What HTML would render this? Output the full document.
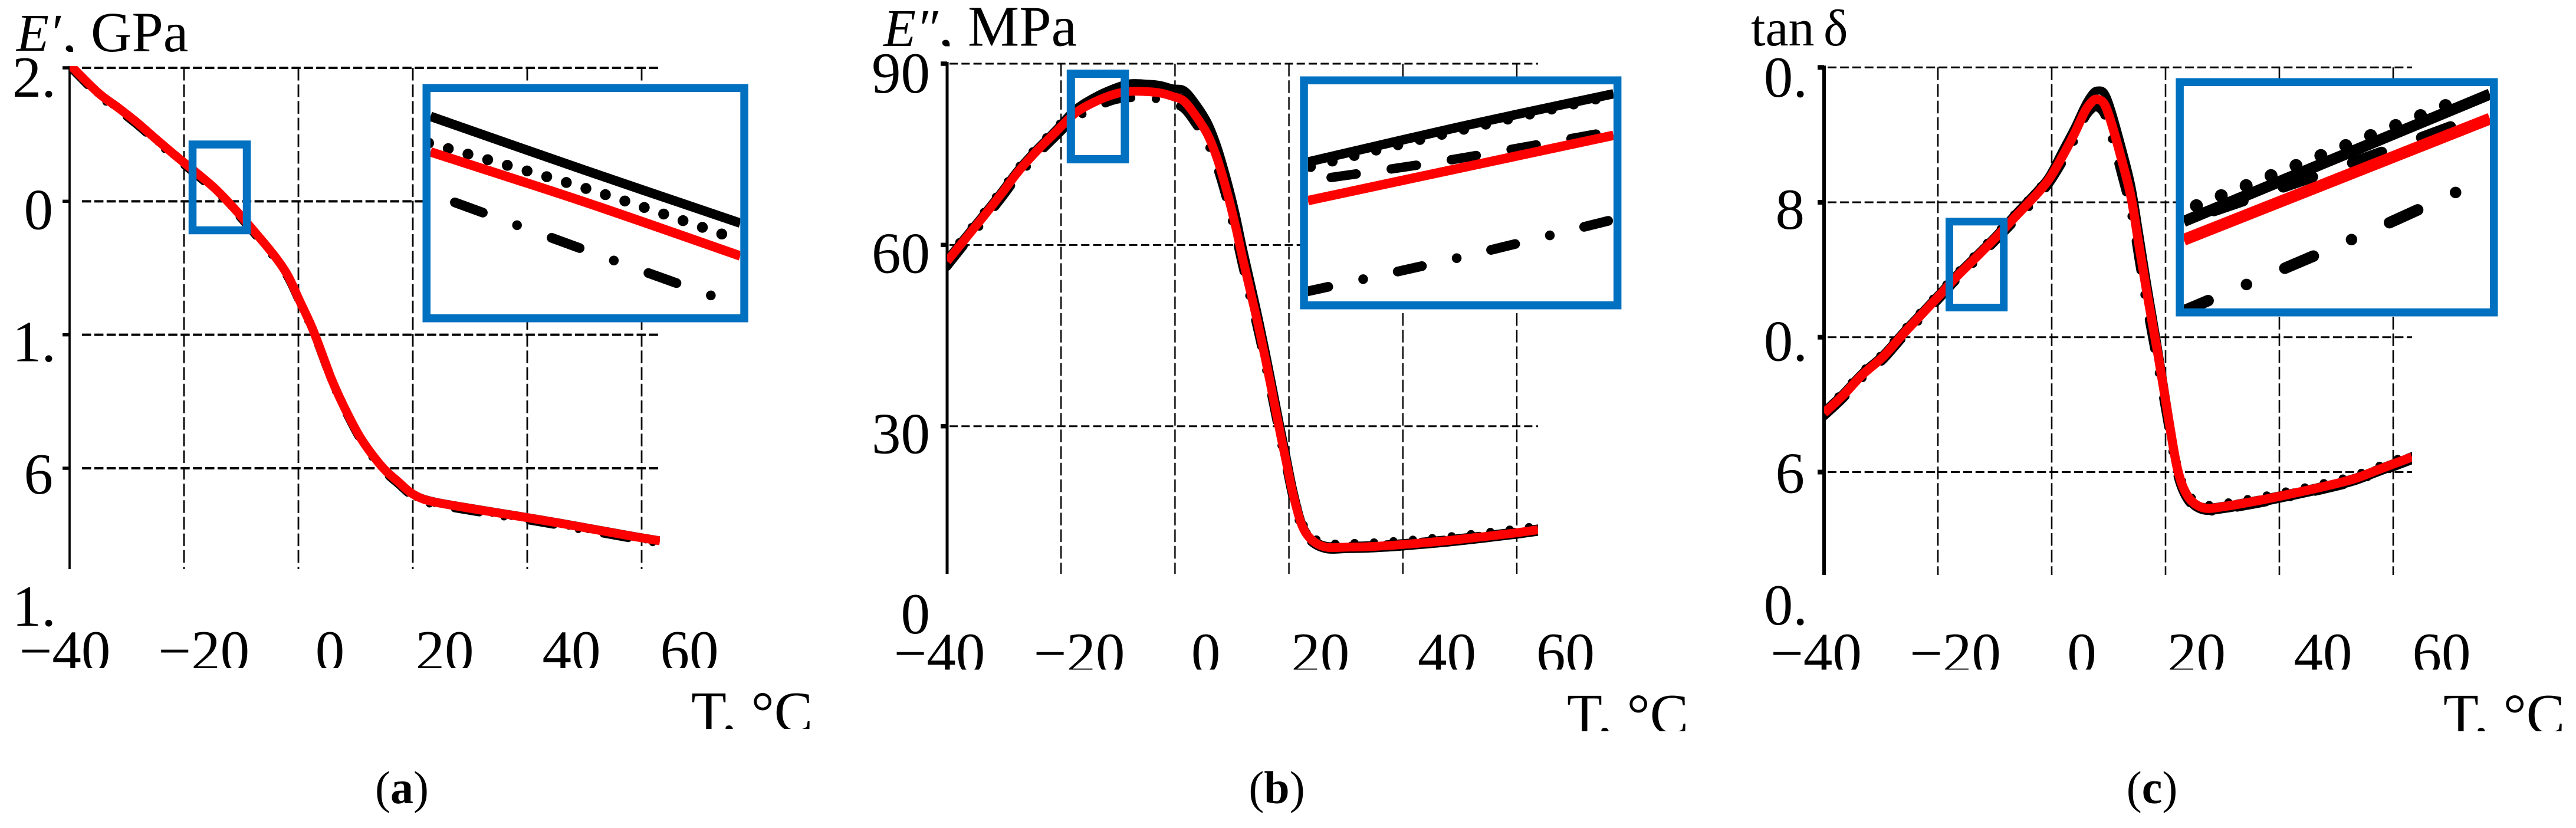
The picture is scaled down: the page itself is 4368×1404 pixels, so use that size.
<!DOCTYPE html>
<html lang="en">
<head>
<meta charset="utf-8">
<title>Dynamic mechanical analysis curves</title>
<style>
html,body{margin:0;padding:0;background:#fff;width:4368px;height:1404px;overflow:hidden}
svg{display:block}
text{font-family:"Liberation Serif","DejaVu Serif",serif;fill:#000}
</style>
</head>
<body>
<svg id="figure" xmlns="http://www.w3.org/2000/svg" width="4368" height="1404" viewBox="0 0 4368 1404">
  <defs>
    <clipPath id="title-clip-a"><rect x="0" y="0" width="600" height="88"/></clipPath>
    <clipPath id="title-clip-b"><rect x="1400" y="0" width="600" height="78.5"/></clipPath>
    <clipPath id="title-clip-c"><rect x="2900" y="0" width="600" height="78.5"/></clipPath>
    <clipPath id="unit-clip-a"><rect x="1150" y="1150" width="224" height="86"/></clipPath>
    <clipPath id="unit-clip-b"><rect x="2640" y="1150" width="218" height="90"/></clipPath>
    <clipPath id="unit-clip-c"><rect x="4125" y="1150" width="220" height="90"/></clipPath>
  </defs>

  <rect x="0" y="0" width="4368" height="1404" fill="#fff"/>

  <g id="layer-a"></g>
  <g id="layer-b"></g>
  <g id="layer-c"></g>

  <g clip-path="url(#title-clip-a)">
    <text x="28" y="86" font-size="90" font-style="italic" fill="#222">E′</text>
    <text x="106" y="87" font-size="96" xml:space="preserve">, GPa</text>
  </g>
  <g clip-path="url(#title-clip-b)">
    <text x="1498" y="78" font-size="90" font-style="italic" fill="#222">E″</text>
    <text x="1592" y="77.5" font-size="98" xml:space="preserve">, MPa</text>
  </g>
  <g clip-path="url(#title-clip-c)">
    <text x="2969" y="77" font-size="88" fill="#222">tan</text>
    <text x="3092" y="77" font-size="88" fill="#222">δ</text>
  </g>

  <g clip-path="url(#unit-clip-a)">
    <text x="1172" y="1240" font-size="98" xml:space="preserve">T, °C</text>
  </g>
  <g clip-path="url(#unit-clip-b)">
    <text x="2657" y="1244" font-size="98" xml:space="preserve">T, °C</text>
  </g>
  <g clip-path="url(#unit-clip-c)">
    <text x="4143" y="1244" font-size="98" xml:space="preserve">T, °C</text>
  </g>

  <text x="681.5" y="1362" font-size="78" text-anchor="middle">(<tspan font-weight="bold">a</tspan>)</text>
  <text x="2165" y="1362" font-size="78" text-anchor="middle">(<tspan font-weight="bold">b</tspan>)</text>
  <text x="3649" y="1362" font-size="78" text-anchor="middle">(<tspan font-weight="bold">c</tspan>)</text>
</svg>

<script>
/* ---------- shared axis data ---------- */
const xGridValues = [-20, 0, 20, 40, 60];
const xTickValues = [-40, -20, 0, 20, 40, 60];
const xTickLabels = ['−40', '−20', '0', '20', '40', '60'];

/* ---------- panel a: storage modulus E', GPa ---------- */
const aYGrid = [2.2, 2.0, 1.8, 1.6];
const aYTicks = [2.2, 2.0, 1.8, 1.6, 1.4];
const aYLabels = ['2.', '0', '1.', '6', '1.'];
const aTemps = [-40,-35.05,-31.6,-28.18,-24.76,-21.34,-17.94,-14.54,-11.08,-7.66,-4.25,-1.86,0.21,2.45,4.9,5.67,7.16,8.87,10.72,12.85,15.15,17.47,19.59,21.65,24.23,28.87,35.15,40.2,45.67,51.96,58.25,63.2];
const aRed = [2.205,2.1629,2.1408,2.1178,2.0922,2.0674,2.0436,2.0188,1.9879,1.9543,1.919,1.8889,1.8509,1.8094,1.7537,1.736,1.7068,1.6768,1.6476,1.6211,1.5973,1.5796,1.5637,1.5544,1.5486,1.5416,1.5327,1.5257,1.5177,1.508,1.4983,1.4912];
const aSolid = [2.2065,2.1644,2.1423,2.1193,2.0937,2.0689,2.0451,2.0203,1.9894,1.9558,1.9205,1.8904,1.8524,1.8109,1.7552,1.7375,1.7083,1.6783,1.6491,1.6226,1.5988,1.5811,1.5652,1.5559,1.5501,1.5431,1.5342,1.5272,1.5192,1.5095,1.4998,1.4927];
const aDotted = [2.203,2.1609,2.1388,2.1158,2.0902,2.0654,2.0416,2.0168,1.9859,1.9523,1.917,1.8869,1.8489,1.8074,1.7517,1.734,1.7048,1.6748,1.6456,1.6191,1.5953,1.5776,1.5617,1.5524,1.5466,1.5396,1.5307,1.5237,1.5157,1.506,1.4963,1.4892];
const aDashDot = [2.2005,2.1584,2.1363,2.1133,2.0877,2.0629,2.0391,2.0143,1.9834,1.9498,1.9145,1.8844,1.8464,1.8049,1.7492,1.7315,1.7023,1.6723,1.6431,1.6166,1.5928,1.5751,1.5592,1.5499,1.5441,1.5371,1.5282,1.5212,1.5132,1.5035,1.4938,1.4867];
/* inset a */
const aInsetRedT = [-17.86,-13.78,-9.72];
const aInsetRedV = [2.0477,2.0214,1.9935];
const aInsetSolidT = [-17.86,-13.78,-9.72];
const aInsetSolidV = [2.0662,2.038,2.0106];
const aInsetDottedT = [-17.91,-13.75,-9.76];
const aInsetDottedV = [2.0523,2.0285,2.0019];
const aInsetDashDotT = [-17.22,-13.04,-9.88];
const aInsetDashDotV = [2.0214,1.9911,1.9686];

/* ---------- panel b: loss modulus E'', MPa ---------- */
const bYGrid = [90, 60, 30];
const bYTicks = [90, 60, 30, 0];
const bYLabels = ['90', '60', '30', '0'];
const bTemps = [-40,-35.82,-33.07,-30.32,-27.58,-24.49,-21.06,-17.62,-14.19,-10.76,-8.01,-5.6,-2.86,-0.46,1.6,3.66,5.72,7.44,9.16,10.62,11.76,13.37,14.65,15.9,17.18,18.45,19.5,20.77,22.25,23.95,26.48,30.29,34.5,40,47.16,53.52,59.43,63.73];
const bRed = [57.3,62.15,65.35,68.65,72.07,75.33,78.58,81.73,83.63,84.92,85.41,85.41,85.19,84.6,83.78,81.34,78.26,74.19,68.65,63.13,58.25,51.74,46.53,41,34.98,28.96,24.22,18.55,13.67,11.23,9.99,9.99,10.09,10.42,11,11.65,12.3,12.86];
const bSolid = [57.6,62.45,65.65,68.95,72.37,75.63,78.88,82.33,84.43,85.92,86.71,86.71,86.49,85.9,85.58,83.34,80.26,76.19,70.65,65.13,60.05,53.34,47.93,42.3,36.2,30.06,25.2,19.25,13.97,11.13,9.69,9.69,9.79,10.12,10.7,11.35,12,12.56];
const bDotted = [57.95,62.8,66,69.3,72.72,75.98,79.23,82.38,84.28,85.57,86.06,86.06,85.84,85.25,84.43,81.99,78.91,74.84,69.3,63.78,58.9,52.39,47.18,41.65,35.63,29.61,24.87,19.2,14.32,11.88,10.64,10.64,10.74,11.07,11.65,12.3,12.95,13.51];
const bDashed = [57.5,62.35,65.55,68.85,72.27,75.53,78.78,81.93,83.83,85.12,85.61,85.61,85.39,84.8,83.98,81.54,78.46,74.39,68.85,63.33,58.45,51.94,46.73,41.2,35.18,29.16,24.42,18.75,13.87,11.43,10.19,10.19,10.29,10.62,11.2,11.85,12.5,13.06];
const bDashDot = [56.4,61.35,64.55,67.85,71.27,74.53,77.78,80.83,82.63,83.92,84.31,84.31,84.09,83.4,82.48,79.94,76.76,72.59,67.05,61.53,56.75,50.34,45.23,39.8,33.88,27.96,23.32,17.75,13.07,10.83,9.69,9.69,9.79,10.12,10.7,11.35,12,12.56];
/* inset b */
const bInsetRedT = [-17.56,-9.52];
const bInsetRedV = [80.74,84.61];
const bInsetSolidT = [-17.56,-13.55,-9.52];
const bInsetSolidV = [83.03,85.12,87.07];
const bInsetDottedT = [-17.49,-14.64,-9.98];
const bInsetDottedV = [82.75,84.34,86.76];
const bInsetDashedT = [-16.95,-13.76,-9.52];
const bInsetDashedV = [82.11,83.17,84.87];
const bInsetDashDotT = [-17.66,-13.63,-9.52];
const bInsetDashDotV = [75.32,77.34,79.62];

/* ---------- panel c: loss tangent tan delta ---------- */
const cYGrid = [0.9, 0.8, 0.7, 0.6];
const cYTicks = [0.9, 0.8, 0.7, 0.6, 0.5];
const cYLabels = ['0.', '8', '0.', '6', '0.'];
const cTemps = [-40,-36.85,-33.26,-29.67,-26.07,-22.48,-18.88,-17.08,-13.48,-9.89,-6.3,-2.7,-0.46,1.79,4.04,5.83,7.18,8.08,9.21,10.33,12.12,13.93,15.27,16.62,18.14,18.65,19.51,20.36,21.21,22.05,23.11,24.59,26.92,30.3,35.8,40.03,46.37,52.73,56.95,60.08,63.3];
const cRed = [0.6438,0.6561,0.6722,0.6854,0.7025,0.7186,0.7348,0.7433,0.7584,0.7736,0.7897,0.8058,0.8172,0.8333,0.8513,0.8674,0.875,0.8763,0.8731,0.8608,0.8342,0.8039,0.7698,0.7357,0.6997,0.6877,0.6659,0.644,0.6222,0.6032,0.5886,0.5785,0.5733,0.5745,0.5785,0.5821,0.5879,0.5945,0.6011,0.6061,0.6112];
const cSolid = [0.6451,0.6574,0.6735,0.6867,0.7038,0.7199,0.7361,0.7446,0.7597,0.7749,0.7917,0.8078,0.8192,0.8373,0.8553,0.8714,0.8805,0.8828,0.8811,0.8698,0.8432,0.8129,0.7788,0.7427,0.7047,0.6917,0.6689,0.646,0.6232,0.6032,0.5876,0.5767,0.5715,0.5727,0.5767,0.5803,0.5861,0.5927,0.5993,0.6043,0.6094];
const cDotted = [0.6463,0.6586,0.6747,0.6879,0.705,0.7211,0.7373,0.7458,0.7609,0.7761,0.7922,0.8083,0.8197,0.8358,0.8538,0.8699,0.8775,0.8788,0.8756,0.8633,0.8367,0.8064,0.7723,0.7382,0.7022,0.6902,0.6684,0.6465,0.6247,0.6057,0.5911,0.581,0.5758,0.577,0.581,0.5846,0.5904,0.597,0.6036,0.6086,0.6137];
const cDashed = [0.6443,0.6566,0.6727,0.6859,0.703,0.7191,0.7353,0.7438,0.7589,0.7741,0.7902,0.8063,0.8177,0.8338,0.8518,0.8679,0.8755,0.8768,0.8736,0.8613,0.8347,0.8044,0.7703,0.7362,0.7002,0.6882,0.6664,0.6445,0.6227,0.6037,0.5891,0.579,0.5738,0.575,0.579,0.5826,0.5884,0.595,0.6016,0.6066,0.6117];
const cDashDot = [0.6413,0.6536,0.6697,0.6829,0.7,0.7161,0.7323,0.7408,0.7559,0.7711,0.7867,0.8023,0.8137,0.8288,0.8463,0.8624,0.8695,0.8703,0.8651,0.8508,0.8222,0.7919,0.7578,0.7237,0.6887,0.6777,0.6569,0.6365,0.6157,0.5982,0.5851,0.5757,0.5708,0.5722,0.5762,0.5798,0.5856,0.5922,0.5988,0.6038,0.6089];
/* inset c */
const cInsetRedT = [-17.31,-9.08];
const cInsetRedV = [0.7426,0.7742];
const cInsetSolidT = [-17.31,-13.2,-9.08];
const cInsetSolidV = [0.7474,0.764,0.7806];
const cInsetDottedT = [-16.97,-13.62,-9.61];
const cInsetDottedV = [0.7515,0.7646,0.7802];
const cInsetDashedT = [-16.5,-12.8,-9.08];
const cInsetDashedV = [0.7502,0.7626,0.7759];
const cInsetDashDotT = [-17.42,-12.79,-9.05];
const cInsetDashDotV = [0.7236,0.7427,0.7592];

/* ---------- helpers ---------- */
const NS = 'http://www.w3.org/2000/svg';
function linearAxis(d0, d1, r0, r1) {
  return v => r0 + (v - d0) * (r1 - r0) / (d1 - d0);
}
function node(tag, attrs, parent) {
  const el = document.createElementNS(NS, tag);
  for (const k in attrs) el.setAttribute(k, attrs[k]);
  parent.appendChild(el);
  return el;
}
function smoothPath(ts, vs, xf, yf) {
  const p = ts.map((t, i) => [xf(t), yf(vs[i])]);
  let d = 'M' + p[0][0].toFixed(2) + ' ' + p[0][1].toFixed(2);
  for (let i = 0; i < p.length - 1; i++) {
    const a = p[Math.max(i - 1, 0)], b = p[i], c = p[i + 1], e = p[Math.min(i + 2, p.length - 1)];
    const c1x = b[0] + (c[0] - a[0]) / 6, c1y = b[1] + (c[1] - a[1]) / 6;
    const c2x = c[0] - (e[0] - b[0]) / 6, c2y = c[1] - (e[1] - b[1]) / 6;
    d += 'C' + c1x.toFixed(2) + ' ' + c1y.toFixed(2) + ' ' + c2x.toFixed(2) + ' ' + c2y.toFixed(2) + ' ' + c[0].toFixed(2) + ' ' + c[1].toFixed(2);
  }
  return d;
}
function drawSeries(group, list, xf, yf, prefix) {
  list.forEach(s => {
    const path = node('path', {
      d: smoothPath(s.t, s.v, xf, yf),
      fill: 'none',
      stroke: s.color,
      'stroke-width': s.width,
      'stroke-linecap': s.dash ? 'round' : 'butt',
      'stroke-linejoin': 'round'
    }, group);
    if (s.dash) path.setAttribute('stroke-dasharray', s.dash);
    
    
  });
}

/* ---------- panel drawing ---------- */
function drawPanel(cfg) {
  const root = document.getElementById('layer-' + cfg.id);
  const defs = document.querySelector('#figure defs');
  const xAxis = cfg.xAxis, yAxis = cfg.yAxis;

  const plotClip = node('clipPath', {id: 'plot-clip-' + cfg.id}, defs);
  node('rect', {x: cfg.left, y: cfg.top - 3, width: cfg.right - cfg.left, height: cfg.bottom - cfg.top + 3}, plotClip);
  const insetClip = node('clipPath', {id: 'inset-clip-' + cfg.id}, defs);
  node('rect', {x: cfg.inset.x0, y: cfg.inset.y0, width: cfg.inset.x1 - cfg.inset.x0, height: cfg.inset.y1 - cfg.inset.y0}, insetClip);
  const tickClip = node('clipPath', {id: 'tick-clip-' + cfg.id}, defs);
  node('rect', {x: cfg.left - 130, y: 1050, width: 1300, height: cfg.xLabelClip - 1050}, tickClip);

  /* gridlines */
  cfg.yGrid.forEach(v => {
    const line = node('line', {x1: cfg.left + cfg.hStart, x2: cfg.right, y1: yAxis(v), y2: yAxis(v), stroke: '#000', 'stroke-width': cfg.hGridWidth, 'stroke-dasharray': cfg.hDash}, root);
    
    
    const tick = node('line', {x1: cfg.left - cfg.tickLen, x2: cfg.left, y1: yAxis(v), y2: yAxis(v), stroke: '#000', 'stroke-width': cfg.tickWidth}, root);
    
    
  });
  xGridValues.forEach(t => {
    const line = node('line', {x1: xAxis(t), x2: xAxis(t), y1: cfg.top, y2: cfg.bottom, stroke: '#000', 'stroke-width': cfg.vGridWidth, 'stroke-dasharray': '21.5 6.7'}, root);
    
    
  });

  /* y axis */
  const axis = node('line', {x1: cfg.left, x2: cfg.left, y1: cfg.top - 3, y2: cfg.bottom, stroke: '#000', 'stroke-width': cfg.axisWidth}, root);
  
  

  /* y tick labels */
  cfg.yTicks.forEach((v, i) => {
    const isDotted = cfg.yLabels[i].endsWith('.');
    const label = node('text', {x: isDotted ? cfg.yLabelX + 5 : cfg.yLabelX, y: cfg.yLabelAxis(v), 'font-size': 99, 'text-anchor': 'end'}, root);
    label.textContent = cfg.yLabels[i];
    
    
  });

  /* x tick labels */
  const xLabels = node('g', {'clip-path': 'url(#tick-clip-' + cfg.id + ')'}, root);
  
  
  xTickValues.forEach((t, i) => {
    const label = node('text', {x: xAxis(t) + cfg.xLabelNudge[i], y: cfg.xLabelBase, 'font-size': 99, 'text-anchor': 'middle'}, xLabels);
    label.textContent = xTickLabels[i];
    
    
  });

  /* main curves */
  const curves = node('g', {'clip-path': 'url(#plot-clip-' + cfg.id + ')'}, root);
  
  
  drawSeries(curves, cfg.series, xAxis, yAxis, 'curve-' + cfg.id);

  /* highlight rectangle */
  const hl = node('rect', {x: cfg.hl.x, y: cfg.hl.y, width: cfg.hl.w, height: cfg.hl.h, fill: 'none', stroke: '#0070C0', 'stroke-width': cfg.hl.sw}, root);
  
  

  /* inset */
  const ins = cfg.inset;
  const box = node('rect', {x: ins.x0, y: ins.y0, width: ins.x1 - ins.x0, height: ins.y1 - ins.y0, fill: '#fff', stroke: 'none'}, root);
  
  
  const insetX = linearAxis(ins.t0, ins.t1, ins.x0, ins.x1);
  const insetY = linearAxis(ins.v0, ins.v1, ins.y0, ins.y1);
  const insetGroup = node('g', {'clip-path': 'url(#inset-clip-' + cfg.id + ')'}, root);
  
  
  drawSeries(insetGroup, ins.series, insetX, insetY, 'inset-curve-' + cfg.id);
  const frame = node('rect', {x: ins.x0 - 6.75, y: ins.y0 - 6.75, width: ins.x1 - ins.x0 + 13.5, height: ins.y1 - ins.y0 + 13.5, fill: 'none', stroke: '#0070C0', 'stroke-width': 13.5}, root);
  
  
}

/* ---------- panel layouts ---------- */
drawPanel({
  id: 'a', left: 118, right: 1119, top: 115, bottom: 965,
  xAxis: linearAxis(-40, 60, 118, 1088),
  yAxis: linearAxis(2.2, 1.6, 115, 794),
  yLabelAxis: linearAxis(2.2, 1.4, 164, 1061),
  yGrid: aYGrid, yTicks: aYTicks, yLabels: aYLabels,
  yLabelX: 90, xLabelBase: 1137, xLabelClip: 1133,
  xLabelNudge: [-8, 33.7, 53.5, 54, 75, 81],
  hStart: 21, hDash: '15.5 5.4', hGridWidth: 4, vGridWidth: 2.8, axisWidth: 3.7, tickLen: 12, tickWidth: 5.5,
  series: [
    {name: 'dash-dot', t: aTemps, v: aDashDot, color: '#000', width: 12, dash: '43 42 0 43'},
    {name: 'dotted', t: aTemps, v: aDotted, color: '#000', width: 12, dash: '0 33'},
    {name: 'solid', t: aTemps, v: aSolid, color: '#000', width: 12},
    {name: 'red', t: aTemps, v: aRed, color: '#FF0000', width: 15}
  ],
  hl: {x: 326.5, y: 245, w: 92, h: 145.5, sw: 13.5},
  inset: {
    x0: 730, x1: 1255.3, y0: 156, y1: 533, t0: -17.86, t1: -9.72, v0: 2.0789, v1: 1.9631,
    series: [
      {name: 'dash-dot', t: aInsetDashDotT, v: aInsetDashDotV, color: '#000', width: 16.5, dash: '50.5 61.8 0 62.4'},
      {name: 'dotted', t: aInsetDottedT, v: aInsetDottedV, color: '#000', width: 18.5, dash: '0 34.7'},
      {name: 'solid', t: aInsetSolidT, v: aInsetSolidV, color: '#000', width: 16},
      {name: 'red', t: aInsetRedT, v: aInsetRedV, color: '#FF0000', width: 16}
    ]
  }
});

drawPanel({
  id: 'b', left: 1606, right: 2608, top: 108, bottom: 973,
  xAxis: linearAxis(-40, 60, 1606, 2572),
  yAxis: linearAxis(90, 30, 108, 722.7),
  yLabelAxis: linearAxis(90, 0, 157, 1074),
  yGrid: bYGrid, yTicks: bYTicks, yLabels: bYLabels,
  yLabelX: 1577, xLabelBase: 1141, xLabelClip: 1135.5,
  xLabelNudge: [-13, 30.8, 52.2, 53.1, 74.7, 82.5],
  hStart: 4, hDash: '14 6.3', hGridWidth: 3, vGridWidth: 2.4, axisWidth: 5, tickLen: 11, tickWidth: 7.5,
  series: [
    {name: 'dash-dot', t: bTemps, v: bDashDot, color: '#000', width: 14, dash: '45 42 0 43'},
    {name: 'dashed', t: bTemps, v: bDashed, color: '#000', width: 14, dash: '38 22'},
    {name: 'dotted', t: bTemps, v: bDotted, color: '#000', width: 14, dash: '0 33'},
    {name: 'solid', t: bTemps, v: bSolid, color: '#000', width: 14},
    {name: 'red', t: bTemps, v: bRed, color: '#FF0000', width: 15}
  ],
  hl: {x: 1815.8, y: 125, w: 91.6, h: 145, sw: 14},
  inset: {
    x0: 2217.8, x1: 2735.9, y0: 143, y1: 511, t0: -17.56, t1: -9.52, v0: 87.63, v1: 74.77,
    series: [
      {name: 'dash-dot', t: bInsetDashDotT, v: bInsetDashDotV, color: '#000', width: 16.5, dash: '42 60.5 0 60'},
      {name: 'dashed', t: bInsetDashedT, v: bInsetDashedV, color: '#000', width: 16, dash: '43 60'},
      {name: 'dotted', t: bInsetDottedT, v: bInsetDottedV, color: '#000', width: 18, dash: '0 38.2'},
      {name: 'solid', t: bInsetSolidT, v: bInsetSolidV, color: '#000', width: 16},
      {name: 'red', t: bInsetRedT, v: bInsetRedV, color: '#FF0000', width: 16}
    ]
  }
});

drawPanel({
  id: 'c', left: 3093, right: 4090, top: 114.3, bottom: 975,
  xAxis: linearAxis(-40, 60, 3093, 4058),
  yAxis: linearAxis(0.9, 0.6, 114.3, 800.5),
  yLabelAxis: linearAxis(0.9, 0.5, 164, 1059),
  yGrid: cYGrid, yTicks: cYTicks, yLabels: cYLabels,
  yLabelX: 3060, xLabelBase: 1141, xLabelClip: 1135.5,
  xLabelNudge: [-13.5, 29.5, 51, 52.5, 74, 82],
  hStart: 6, hDash: '15 5.9', hGridWidth: 3, vGridWidth: 2.6, axisWidth: 6, tickLen: 11, tickWidth: 8,
  series: [
    {name: 'dash-dot', t: cTemps, v: cDashDot, color: '#000', width: 14, dash: '50 42 0 43'},
    {name: 'dashed', t: cTemps, v: cDashed, color: '#000', width: 14, dash: '38 22'},
    {name: 'dotted', t: cTemps, v: cDotted, color: '#000', width: 14, dash: '0 33'},
    {name: 'solid', t: cTemps, v: cSolid, color: '#000', width: 14},
    {name: 'red', t: cTemps, v: cRed, color: '#FF0000', width: 15.5}
  ],
  hl: {x: 3305.5, y: 375.8, w: 92.2, h: 145.7, sw: 13},
  inset: {
    x0: 3702.9, x1: 4222, y0: 146, y1: 523, t0: -17.31, t1: -9.08, v0: 0.7827, v1: 0.7247,
    series: [
      {name: 'dash-dot', t: cInsetDashDotT, v: cInsetDashDotV, color: '#000', width: 19.5, dash: '52.4 70.6 0 70.6'},
      {name: 'dashed', t: cInsetDashedT, v: cInsetDashedV, color: '#000', width: 19, dash: '52.4 72'},
      {name: 'dotted', t: cInsetDottedT, v: cInsetDottedV, color: '#000', width: 22, dash: '0 45.5'},
      {name: 'solid', t: cInsetSolidT, v: cInsetSolidV, color: '#000', width: 19},
      {name: 'red', t: cInsetRedT, v: cInsetRedV, color: '#FF0000', width: 20}
    ]
  }
});
</script>
</body>
</html>
